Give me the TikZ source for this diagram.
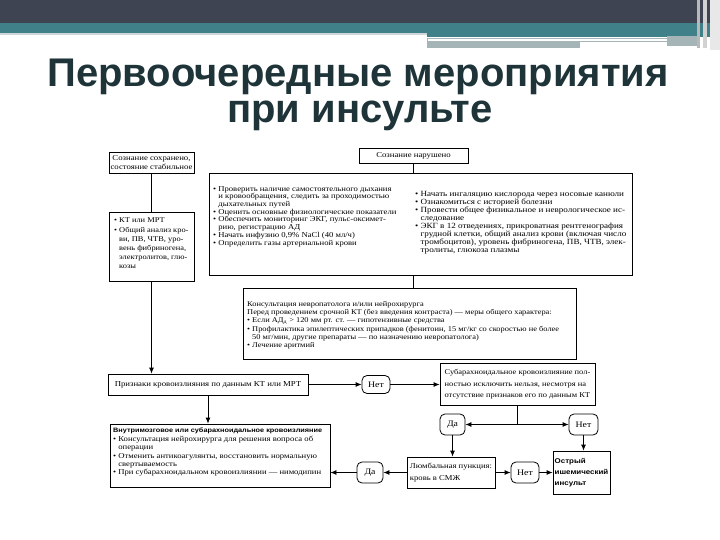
\documentclass[tikz,border=0pt]{standalone}
\usepackage{fontspec}
\setmainfont{Liberation Serif}
\newfontfamily\flowfont[FakeStretch=1.15]{Liberation Serif}
\newfontfamily\flowsans[FakeStretch=1.15]{Liberation Sans}
\newfontfamily\titlefont{Liberation Sans}
\usetikzlibrary{arrows.meta}
\definecolor{hdrdark}{RGB}{62,68,82}
\definecolor{hdrteal}{RGB}{64,128,136}
\definecolor{hdrgray}{RGB}{164,180,183}
\definecolor{hdrlight}{RGB}{205,215,217}
\definecolor{titlecol}{RGB}{30,52,56}
\newcommand{\bul}{\textbullet\ }
\newcommand{\ind}{\phantom{\textbullet\ }}

\begin{document}
\begin{tikzpicture}[x=1pt,y=-1pt,
    box/.style={draw,line width=0.8pt,inner sep=0pt},
    reply/.style={draw,line width=0.8pt,rounded corners=5pt,inner sep=0pt,font=\flowfont\fontsize{8.5}{9}\selectfont},
    link/.style={line width=0.8pt},
    arr/.style={line width=0.8pt,-{Latex[length=6pt,width=5pt]}}]
    \useasboundingbox[fill=white] (0,0) rectangle (720,540);
    % slide header
    \fill[hdrdark] (0,0) rectangle (720,23);
    \fill[hdrteal] (0,23) rectangle (720,33);
    \fill[hdrteal] (427,33) rectangle (720,37);
    \fill[hdrlight] (0,33) rectangle (427,35);
    \filldraw[fill=white,draw=hdrgray] (427,38) rectangle (667,41);
    \fill[hdrgray] (427,42) rectangle (580,48);
    \fill[hdrgray] (667,36) rectangle (697,46);
    \fill[gray!55] (697,0) rectangle (700,48);
    \fill[gray!35] (703,0) rectangle (707,48);
    \fill[gray!18] (710,0) rectangle (720,50);
    \node[font=\titlefont\bfseries\fontsize{40}{40}\selectfont,text=titlecol,anchor=base] at (358,87) (title1) {Первоочередные мероприятия};
    \node[font=\titlefont\bfseries\fontsize{40}{40}\selectfont,text=titlecol,anchor=base] at (360,123) (title2) {при инсульте};
    % left branch
    \node[box,minimum width=85pt,minimum height=21pt,align=center,font=\flowfont\fontsize{7.6}{8.5}\selectfont] at (151.5,162.5) (consok) {Сознание сохранено,\\состояние стабильное};
    \node[box,minimum width=85pt,minimum height=69pt] at (151.5,246.5) (tests) {};
    \node[anchor=north west,inner sep=0pt,align=left,font=\flowfont\fontsize{7.3}{9.2}\selectfont] at (114,218) (teststxt) {\bul КТ или МРТ\\
        \bul Общий анализ кро-\\
        \ind ви, ПВ, ЧТВ, уро-\\
        \ind вень фибриногена,\\
        \ind электролитов, глю-\\
        \ind козы};
    % right branch
    \node[box,minimum width=109pt,minimum height=15pt,font=\flowfont\fontsize{7.6}{8}\selectfont] at (413.5,155.5) (consbad) {Сознание нарушено};
    \node[box,minimum width=423pt,minimum height=102pt] at (420.5,224) (general) {};
    \node[anchor=north west,inner sep=0pt,align=left,font=\flowfont\fontsize{7.5}{7.7}\selectfont] at (213,186) (genleft) {\bul Проверить наличие самостоятельного дыхания\\
        \ind и кровообращения, следить за проходимостью\\
        \ind дыхательных путей\\
        \bul Оценить основные физиологические показатели\\
        \bul Обеспечить мониторинг ЭКГ, пульс-оксимет-\\
        \ind рию, регистрацию АД\\
        \bul Начать инфузию 0,9\% NaCl (40 мл/ч)\\
        \bul Определить газы артериальной крови};
    \node[anchor=north west,inner sep=0pt,align=left,font=\flowfont\fontsize{7.9}{8}\selectfont] at (415,191) (genright) {\bul Начать ингаляцию кислорода через носовые канюли\\
        \bul Ознакомиться с историей болезни\\
        \bul Провести общее физикальное и неврологическое ис-\\
        \ind следование\\
        \bul ЭКГ в 12 отведениях, прикроватная рентгенография\\
        \ind грудной клетки, общий анализ крови (включая число\\
        \ind тромбоцитов), уровень фибриногена, ПВ, ЧТВ, элек-\\
        \ind тролиты, глюкоза плазмы};
    \node[box,minimum width=333pt,minimum height=71pt] at (409.5,323.5) (consult) {};
    \node[anchor=north west,inner sep=0pt,align=left,font=\flowfont\fontsize{7.3}{8.3}\selectfont] at (247,301) (consulttxt) {Консультация невропатолога и/или нейрохирурга\\
        Перед проведением срочной КТ (без введения контраста) — меры общего характера:\\
        \bul Если АД\textsubscript{д} > 120 мм рт. ст. — гипотензивные средства\\
        \bul Профилактика эпилептических припадков (фенитоин, 15 мг/кг со скоростью не более\\
        \ind 50 мг/мин, другие препараты — по назначению невропатолога)\\
        \bul Лечение аритмий};
    % decisions
    \node[box,minimum width=200pt,minimum height=21pt,font=\flowfont\fontsize{7.6}{9}\selectfont] at (208,384.5) (signs) {Признаки кровоизлияния по данным КТ или МРТ};
    \node[reply,minimum width=28pt,minimum height=18pt] at (376,384.5) (no1) {Нет};
    \node[box,minimum width=155pt,minimum height=42pt,align=left,font=\flowfont\fontsize{7.35}{11.5}\selectfont] at (517.5,384.5) (sah) {Субарахноидальное кровоизлияние пол-\\
        ностью исключить нельзя, несмотря на\\
        отсутствие признаков его по данным КТ};
    \coordinate (split) at (517.5,424.5);
    \node[reply,minimum width=25pt,minimum height=21pt] at (452.5,424.5) (yes1) {Да};
    \node[reply,minimum width=29pt,minimum height=21pt] at (583.5,424.5) (no2) {Нет};
    % bottom row
    \node[box,minimum width=220pt,minimum height=63pt] at (220,455.5) (ich) {};
    \node[anchor=north west,inner sep=0pt,align=left,font=\flowfont\fontsize{7.5}{8.4}\selectfont] at (113,428) (ichtxt) {{\flowsans\bfseries\fontsize{6.35}{8.4}\selectfont Внутримозговое или субарахноидальное кровоизлияние}\\
        \bul Консультация нейрохирурга для решения вопроса об\\
        \ind операции\\
        \bul Отменить антикоагулянты, восстановить нормальную\\
        \ind свертываемость\\
        \bul При субарахноидальном кровоизлиянии — нимодипин};
    \node[box,minimum width=88pt,minimum height=31pt,align=left,font=\flowfont\fontsize{7.5}{11.7}\selectfont] at (451,472.5) (lumbar) {Люмбальная пункция:\\кровь в СМЖ};
    \node[reply,minimum width=26pt,minimum height=21pt] at (370,472.5) (yes2) {Да};
    \node[reply,minimum width=28pt,minimum height=21pt] at (525,472.5) (no3) {Нет};
    \node[box,minimum width=57pt,minimum height=43pt,align=left,font=\flowsans\bfseries\fontsize{6.9}{11}\selectfont] at (581.5,472.5) (stroke) {Острый\\ишемический\\инсульт};
    % connectors
    \draw[link] (consok) -- (tests);
    \draw[arr] (tests.south) -- (tests.south |- signs.north);
    \draw[link] (consbad) -- (consbad |- general.north);
    \draw[link] (consbad |- general.south) -- (consbad |- consult.north);
    \draw[arr] (signs) -- (no1);
    \draw[arr] (no1) -- (sah);
    \draw[link] (sah) -- (split);
    \draw[arr] (split) -- (yes1);
    \draw[arr] (split) -- (no2);
    \draw[arr] (yes1) -- (yes1 |- lumbar.north);
    \draw[arr] (no2) -- (no2 |- stroke.north);
    \draw[arr] (lumbar) -- (no3);
    \draw[arr] (no3) -- (stroke);
    \draw[arr] (lumbar) -- (yes2);
    \draw[arr] (yes2) -- (yes2 -| ich.east);
    \draw[arr] (signs) -- (signs |- ich.north);
\end{tikzpicture}
\end{document}
